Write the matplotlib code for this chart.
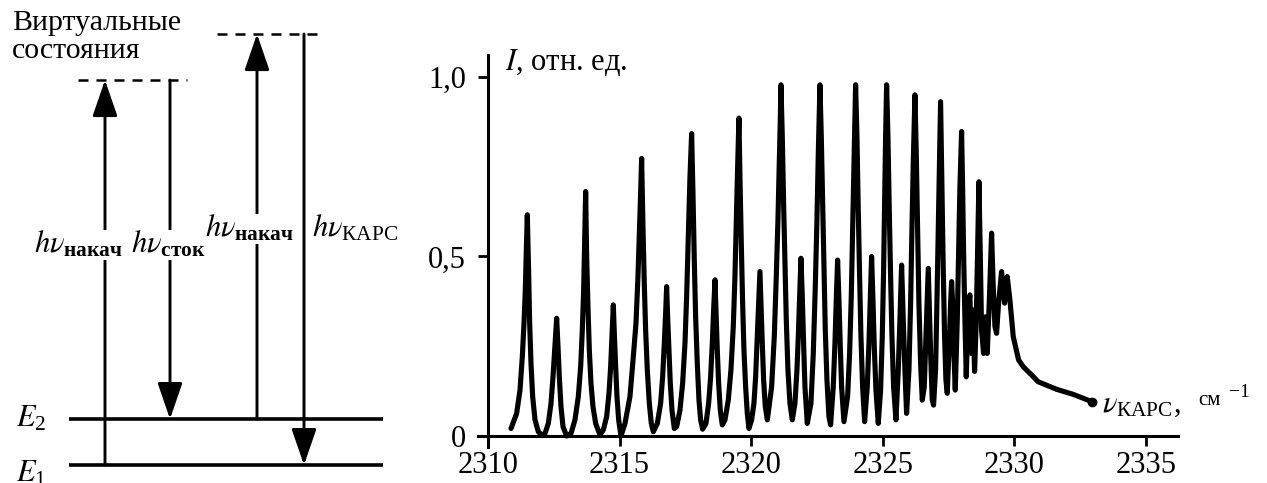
import matplotlib
matplotlib.use("Agg")
import matplotlib.pyplot as plt

plt.rcParams["font.family"] = ["Liberation Serif", "DejaVu Serif"]
plt.rcParams["mathtext.fontset"] = "custom"
plt.rcParams["mathtext.rm"] = "Liberation Serif"
plt.rcParams["mathtext.it"] = "STIXGeneral:italic"
plt.rcParams["mathtext.bf"] = "Liberation Serif:bold"

# --- energy scheme (energies in units of E2 - E1) ---
level_labels = ["$E_1$", "$E_2$"]
level_energy = [0.0, 1.0]
virtual_energy = [8.37, 9.37]
photon_labels = [
    r"$h\nu_{\mathbf{накач}}$",
    r"$h\nu_{\mathbf{сток}}$",
    r"$h\nu_{\mathbf{накач}}$",
    r"$h\nu_{\mathrm{КАРС}}$",
]
photon_from = [0.0, 8.37, 1.0, 9.37]
photon_to = [8.37, 1.0, 9.37, 0.0]

# --- CARS spectrum (one row per line) ---
wavenumber = [
    2310.874, 2311.089, 2311.216, 2311.304, 2311.368, 2311.418, 2311.456, 2311.494,
    2311.545, 2311.583, 2311.634, 2311.697, 2311.786, 2311.912, 2312.039,
    2312.166, 2312.292, 2312.394, 2312.470, 2312.533, 2312.609,
    2312.660, 2312.710, 2312.774, 2312.850, 2312.989,
    2313.153, 2313.305, 2313.432, 2313.521, 2313.584, 2313.635, 2313.673, 2313.711,
    2313.749, 2313.799, 2313.850, 2313.913, 2313.989, 2314.091, 2314.255,
    2314.382, 2314.509, 2314.597, 2314.661, 2314.711, 2314.762,
    2314.800, 2314.851, 2314.901, 2314.965, 2315.053,
    2315.205, 2315.395, 2315.522, 2315.623, 2315.699, 2315.762, 2315.800, 2315.838,
    2315.889, 2315.939, 2315.990, 2316.054, 2316.130, 2316.206, 2316.282,
    2316.434, 2316.560, 2316.636, 2316.700, 2316.750, 2316.788,
    2316.826, 2316.877, 2316.927, 2316.991, 2317.080,
    2317.168, 2317.295, 2317.396, 2317.485, 2317.548, 2317.611, 2317.675, 2317.738,
    2317.789, 2317.839, 2317.890, 2317.953, 2318.017, 2318.080, 2318.156,
    2318.283, 2318.384, 2318.460, 2318.523, 2318.574, 2318.625,
    2318.663, 2318.713, 2318.764, 2318.827, 2318.903,
    2319.005, 2319.131, 2319.232, 2319.321, 2319.384, 2319.435, 2319.486, 2319.536,
    2319.574, 2319.625, 2319.676, 2319.726, 2319.790, 2319.853, 2319.916,
    2320.018, 2320.106, 2320.170, 2320.233, 2320.284, 2320.334,
    2320.372, 2320.423, 2320.474, 2320.537, 2320.615,
    2320.778, 2320.879, 2320.955, 2321.018, 2321.069, 2321.107, 2321.132,
    2321.183, 2321.233, 2321.284, 2321.335, 2321.398, 2321.474, 2321.563,
    2321.664, 2321.740, 2321.791, 2321.841, 2321.892,
    2321.943, 2321.993, 2322.044, 2322.133,
    2322.272, 2322.361, 2322.437, 2322.500, 2322.551, 2322.589, 2322.614,
    2322.665, 2322.716, 2322.766, 2322.817, 2322.880, 2322.956, 2323.019,
    2323.120, 2323.184, 2323.234, 2323.285,
    2323.336, 2323.387, 2323.437, 2323.526,
    2323.665, 2323.741, 2323.804, 2323.855, 2323.906, 2323.944, 2323.969,
    2324.020, 2324.070, 2324.121, 2324.172, 2324.235, 2324.311,
    2324.412, 2324.476, 2324.526, 2324.577,
    2324.628, 2324.678, 2324.742, 2324.830,
    2324.919, 2324.982, 2325.033, 2325.071, 2325.109, 2325.147,
    2325.198, 2325.248, 2325.299, 2325.350, 2325.413, 2325.502,
    2325.590, 2325.653, 2325.717, 2325.780, 2325.843, 2325.906,
    2325.996, 2326.059, 2326.109, 2326.160, 2326.198, 2326.223,
    2326.274, 2326.325, 2326.375, 2326.439, 2326.502,
    2326.578, 2326.641, 2326.692, 2326.730, 2326.768, 2326.819, 2326.882, 2326.932,
    2327.008, 2327.059, 2327.110, 2327.160, 2327.198,
    2327.249, 2327.300, 2327.350, 2327.401, 2327.452,
    2327.528, 2327.579, 2327.617, 2327.655, 2327.705, 2327.756,
    2327.832, 2327.883, 2327.933, 2327.971, 2327.997,
    2328.035, 2328.073, 2328.123, 2328.174,
    2328.250, 2328.313, 2328.364, 2328.427, 2328.490,
    2328.554, 2328.604, 2328.655, 2328.706, 2328.756, 2328.832, 2328.908, 2328.971,
    2329.047, 2329.136, 2329.199, 2329.263, 2329.326,
    2329.402, 2329.516, 2329.630, 2329.731, 2329.833,
    2329.959, 2330.048, 2330.162, 2330.339, 2330.656, 2330.909,
    2331.61, 2332.24, 2332.62, 2332.97,
]
intensity = [
    0.021, 0.063, 0.128, 0.221, 0.314, 0.407, 0.518, 0.616,
    0.453, 0.314, 0.202, 0.110, 0.045, 0.012, 0.003,
    0.007, 0.035, 0.091, 0.165, 0.240, 0.328,
    0.249, 0.165, 0.082, 0.026, 0.0,
    0.007, 0.045, 0.110, 0.193, 0.295, 0.407, 0.546, 0.681,
    0.500, 0.360, 0.240, 0.147, 0.082, 0.035, 0.003,
    0.017, 0.054, 0.119, 0.193, 0.277, 0.365,
    0.286, 0.193, 0.110, 0.045, 0.0,
    0.035, 0.110, 0.221, 0.314, 0.444, 0.583, 0.676, 0.773,
    0.583, 0.425, 0.295, 0.184, 0.091, 0.035, 0.012,
    0.035, 0.091, 0.165, 0.258, 0.342, 0.416,
    0.332, 0.240, 0.147, 0.072, 0.021,
    0.026, 0.072, 0.147, 0.258, 0.388, 0.555, 0.722, 0.842,
    0.676, 0.490, 0.332, 0.202, 0.100, 0.045, 0.019,
    0.035, 0.091, 0.165, 0.258, 0.351, 0.435,
    0.351, 0.240, 0.147, 0.072, 0.031,
    0.045, 0.100, 0.184, 0.305, 0.444, 0.602, 0.750, 0.885,
    0.722, 0.537, 0.370, 0.240, 0.137, 0.063, 0.021,
    0.045, 0.091, 0.165, 0.277, 0.370, 0.458,
    0.370, 0.258, 0.156, 0.082, 0.045,
    0.137, 0.277, 0.444, 0.602, 0.760, 0.880, 0.978,
    0.834, 0.648, 0.481, 0.323, 0.184, 0.091, 0.045,
    0.091, 0.184, 0.277, 0.388, 0.495,
    0.388, 0.258, 0.137, 0.035,
    0.091, 0.230, 0.416, 0.602, 0.787, 0.899, 0.978,
    0.834, 0.648, 0.462, 0.295, 0.156, 0.054, 0.031,
    0.137, 0.258, 0.379, 0.490,
    0.379, 0.249, 0.137, 0.040,
    0.110, 0.230, 0.388, 0.574, 0.760, 0.890, 0.978,
    0.834, 0.630, 0.444, 0.277, 0.137, 0.040,
    0.137, 0.258, 0.379, 0.500,
    0.379, 0.249, 0.128, 0.035,
    0.128, 0.277, 0.462, 0.648, 0.834, 0.978,
    0.834, 0.630, 0.444, 0.277, 0.137, 0.045,
    0.184, 0.323, 0.476, 0.323, 0.184, 0.063,
    0.184, 0.370, 0.574, 0.760, 0.880, 0.950,
    0.787, 0.574, 0.370, 0.202, 0.100,
    0.137, 0.277, 0.388, 0.467, 0.370, 0.230, 0.100, 0.086,
    0.184, 0.370, 0.574, 0.787, 0.931,
    0.694, 0.462, 0.277, 0.156, 0.119,
    0.258, 0.370, 0.430, 0.370, 0.230, 0.128,
    0.323, 0.509, 0.694, 0.787, 0.848,
    0.694, 0.509, 0.323, 0.165,
    0.370, 0.393, 0.230, 0.351, 0.180,
    0.323, 0.509, 0.708, 0.509, 0.295, 0.230, 0.332, 0.230,
    0.370, 0.565, 0.416, 0.305, 0.286,
    0.370, 0.458, 0.370, 0.444, 0.379,
    0.277, 0.249, 0.212, 0.193, 0.170, 0.151,
    0.130, 0.116, 0.105, 0.095,
]
x_ticks = [2310, 2315, 2320, 2325, 2330, 2335]
y_ticks = [0, 0.5, 1.0]
y_tick_labels = ["0", "0,5", "1,0"]

W, H = 1267, 483
fig = plt.figure(figsize=(W / 100, H / 100), dpi=100)

# ---------------- left: energy diagram ----------------
ax0 = fig.add_axes([0, 0, 420 / W, 1])
ax0.set_xlim(0, 420)
ax0.set_ylim(-0.39, 10.11)
ax0.axis("off")

for e in level_energy:
    ax0.plot([69, 383], [e, e], color="black", lw=2.6, solid_capstyle="butt")
for e, (x0, x1) in zip(virtual_energy, [(78, 187), (217, 323)]):
    ax0.plot([x0, x1], [e, e], color="black", lw=1.8, ls=(0, (4, 3.2)))

arrow_x = [105, 170, 257, 304]
for x, e0, e1 in zip(arrow_x, photon_from, photon_to):
    ax0.annotate("", xy=(x, e1), xytext=(x, e0),
                 arrowprops=dict(arrowstyle="-|>,head_length=1.6,head_width=0.55",
                                 mutation_scale=14, lw=2.1, color="black",
                                 shrinkA=0, shrinkB=0))

label_pos = [(34, 4.61), (131, 4.61), (205, 4.96), (312, 4.96)]
for i, (lab, (x, y)) in enumerate(zip(photon_labels, label_pos)):
    bbox = dict(facecolor="white", edgecolor="none", pad=0) if i < 3 else None
    ax0.text(x, y, lab, fontsize=22, ha="left", va="baseline", bbox=bbox,
             zorder=5)

for lab, y in zip(level_labels, [-0.36, 0.83]):
    ax0.text(16, y, lab, fontsize=22, ha="left", va="baseline")

ax0.text(12, 9.9, "Виртуальные\nсостояния", fontsize=21.5, ha="left",
         va="top", linespacing=1.12)

# ---------------- right: CARS spectrum ----------------
ax = fig.add_axes([478 / W, (H - 446.8) / H, 700 / W, (446.8 - 55) / H])
ax.plot(wavenumber, intensity, color="black", lw=3.7,
        solid_joinstyle="round", solid_capstyle="round",
        marker="o", markersize=6, markevery=[-1])
ax.set_xlim(2309.62, 2336.22)
ax.set_ylim(-0.03, 1.061)

for s in ["top", "right"]:
    ax.spines[s].set_visible(False)
ax.spines["left"].set_position(("data", 2310))
ax.spines["bottom"].set_position(("data", 0))
for s in ["left", "bottom"]:
    ax.spines[s].set_linewidth(2.2)

ax.set_xticks(x_ticks)
ax.set_yticks(y_ticks)
ax.set_yticklabels(y_tick_labels)
ax.tick_params(direction="out", length=7, width=2, labelsize=22)
ax.tick_params(axis="x", pad=4)
ax.tick_params(axis="y", pad=9)

ax.text(2310.65, 1.04, "$I$, отн. ед.", fontsize=22, ha="left", va="center")
ax.text(2333.33, 0.067, r"$\nu_{\mathrm{КАРС}}$,", fontsize=22, ha="left",
        va="baseline")
ax.text(2337.0, 0.086, "см", fontsize=15, ha="left", va="baseline")
ax.text(2338.15, 0.108, "\u22121", fontsize=14, ha="left", va="baseline")

fig.savefig("out.png", dpi=100)
